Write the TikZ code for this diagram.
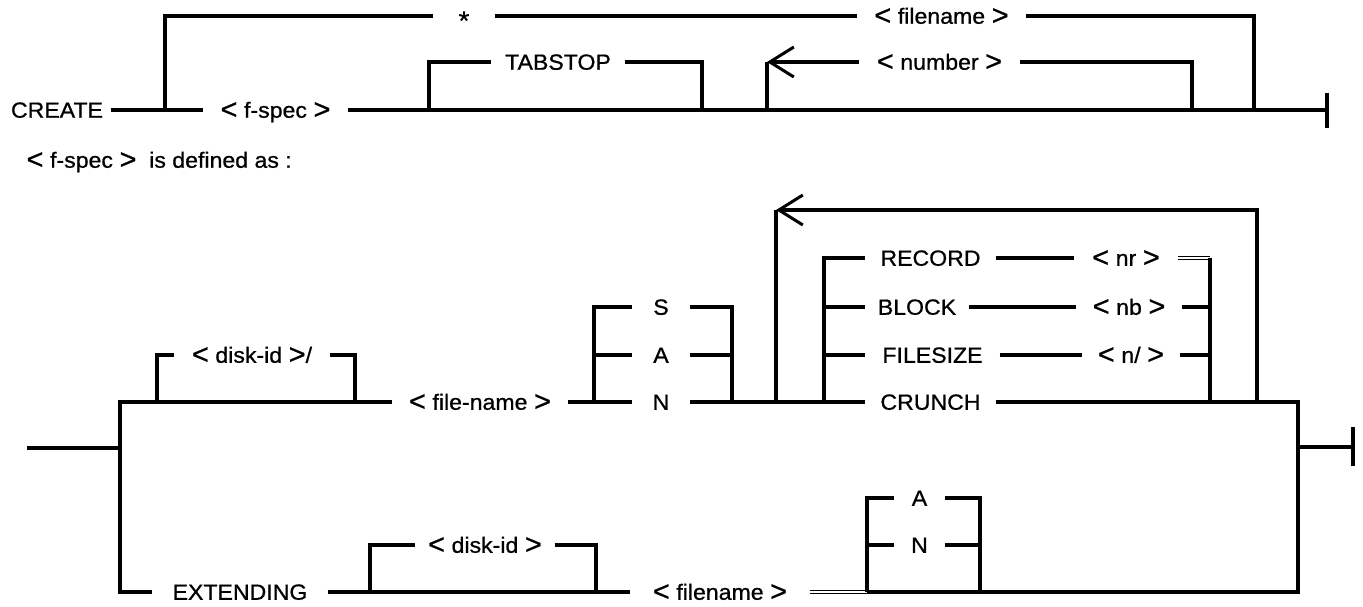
\documentclass[tikz,border=0pt]{standalone}
\usepackage{fontspec}
\usepackage{graphicx}
\setmainfont{Liberation Sans}[FakeStretch=1.05,FakeBold=0.8]
\usetikzlibrary{arrows.meta}
\newcommand\LA{\raisebox{-1.2pt}{\scalebox{1.25}[1.3]{<}}\hspace{0.3em}}
\newcommand\RA{\hspace{0.3em}\raisebox{-1.2pt}{\scalebox{1.25}[1.3]{>}}}
\begin{document}
\begin{tikzpicture}[x=1pt,y=-1pt,line width=3.2pt,
  lbl/.style={inner sep=0pt,text height=15.5pt,text depth=0pt,font=\fontsize{22}{26}\selectfont},
  dbl/.style={double,double distance=2.2pt,line width=1.1pt},
  back/.style={-{Straight Barb[length=24pt,width=30pt,line width=3pt]}}]
\useasboundingbox (0,0) rectangle (1363,607);
% ---------------- top diagram ----------------
\node[lbl,minimum width=104pt] (create) at (57,110) {CREATE};
\node[lbl,minimum width=141pt] (fspec) at (275.5,110) {\LA f-spec\RA};
\node[lbl,minimum width=58pt] (star) at (464,16) {\raisebox{-6pt}{\scalebox{1.2}{*}}};
\node[lbl,minimum width=165pt] (topfn) at (941.5,16) {\LA filename\RA};
\node[lbl,minimum width=130pt] (tab) at (558,62) {TABSTOP};
\node[lbl,minimum width=157pt] (num) at (939.5,62) {\LA number\RA};
\coordinate (j1) at (165,110); \coordinate (j1t) at (165,16);
\coordinate (j2t) at (1254,16); \coordinate (j2) at (1254,110);
\coordinate (topend) at (1327,110);
\coordinate (tbA) at (1327,93); \coordinate (tbB) at (1327,128);
\coordinate (t1) at (429,110); \coordinate (t1t) at (429,62);
\coordinate (t2t) at (702,62); \coordinate (t2) at (702,110);
\coordinate (n1) at (767,110); \coordinate (n1t) at (767,62);
\coordinate (n2t) at (1192,62); \coordinate (n2) at (1192,110);
\draw (create.east) -- (fspec.west);
\draw (j1) -- (j1t) -- (star.west);
\draw (star.east) -- (topfn.west);
\draw (topfn.east) -- (j2t) -- (j2);
\draw (fspec.east) -- (topend);
\draw (tbA) -- (tbB);
\draw (t1) -- (t1t) -- (tab.west);
\draw (tab.east) -- (t2t) -- (t2);
\draw (n1) -- (n1t);
\draw (n2) -- (n2t) -- (num.east);
\draw[back] (num.west) -- (n1t);
\node[lbl,anchor=west] (note) at (25,160) {\LA f-spec\RA\ \ is defined as :};
% ---------------- bottom diagram ----------------
\coordinate (in) at (27,448); \coordinate (inj) at (120,448);
\coordinate (Ltop) at (120,402); \coordinate (Lbot) at (120,592);
\node[lbl,minimum width=172pt] (fn) at (480,402) {\LA file-name\RA};
\node[lbl,minimum width=152pt] (did) at (252,355) {\LA disk-id\RA/};
\node[lbl,minimum width=54pt] (S) at (661,307) {S};
\node[lbl,minimum width=54pt] (A) at (661,355) {A};
\node[lbl,minimum width=54pt] (N) at (661,402) {N};
\node[lbl,minimum width=127pt] (record) at (930.5,258) {RECORD};
\node[lbl,minimum width=100pt] (block) at (917,307) {BLOCK};
\node[lbl,minimum width=131pt] (filesize) at (932.5,355) {FILESIZE};
\node[lbl,minimum width=127pt] (crunch) at (930.5,402) {CRUNCH};
\node[lbl,minimum width=100pt] (nr) at (1126,258) {\LA nr\RA};
\node[lbl,minimum width=103pt] (nb) at (1129,307) {\LA nb\RA};
\node[lbl,minimum width=94pt] (nsl) at (1131,355) {\LA n/\RA};
\node[lbl,minimum width=172pt] (ext) at (240,592) {EXTENDING};
\node[lbl,minimum width=136pt] (did2) at (485,545) {\LA disk-id\RA};
\node[lbl,minimum width=176pt] (fn2) at (720,592) {\LA filename\RA};
\node[lbl,minimum width=47pt] (A2) at (919.5,498) {A};
\node[lbl,minimum width=47pt] (N2) at (919.5,545) {N};
\coordinate (d1) at (157,402); \coordinate (d1t) at (157,355);
\coordinate (d2t) at (355,355); \coordinate (d2) at (355,402);
\coordinate (s1) at (594,402); \coordinate (s1a) at (594,355); \coordinate (s1t) at (594,307);
\coordinate (s2t) at (732,307); \coordinate (s2a) at (732,355); \coordinate (s2) at (732,402);
\coordinate (l1) at (776,402); \coordinate (l1t) at (776,210);
\coordinate (l2t) at (1257,210); \coordinate (l2) at (1257,402);
\coordinate (r1) at (824,402); \coordinate (r1f) at (824,355);
\coordinate (r1b) at (824,307); \coordinate (r1t) at (824,258);
\coordinate (r2t) at (1210,258); \coordinate (r2b) at (1210,307);
\coordinate (r2f) at (1210,355); \coordinate (r2) at (1210,402);
\coordinate (x1t) at (1298,402); \coordinate (x1b) at (1298,592);
\coordinate (xj) at (1298,447); \coordinate (xe) at (1353,447);
\coordinate (xbA) at (1353,427); \coordinate (xbB) at (1353,466);
\coordinate (e1) at (370,592); \coordinate (e1t) at (370,545);
\coordinate (e2t) at (596,545); \coordinate (e2) at (596,592);
\coordinate (b1) at (867,592); \coordinate (b1n) at (867,545); \coordinate (b1t) at (867,498);
\coordinate (b2t) at (980,498); \coordinate (b2n) at (980,545); \coordinate (b2) at (980,592);
% entry and left fork
\draw (in) -- (inj);
\draw (fn.west) -- (Ltop) -- (Lbot) -- (ext.west);
\draw (d1) -- (d1t) -- (did.west);
\draw (did.east) -- (d2t) -- (d2);
% S / A / N
\draw (fn.east) -- (N.west);
\draw (s1) -- (s1t) -- (S.west);
\draw (s1a) -- (A.west);
\draw (S.east) -- (s2t) -- (s2);
\draw (A.east) -- (s2a);
\draw (N.east) -- (crunch.west);
% repeat loop
\draw (l1) -- (l1t);
\draw[back] (l2) -- (l2t) -- (l1t);
% options
\draw (r1) -- (r1t) -- (record.west);
\draw (r1b) -- (block.west);
\draw (r1f) -- (filesize.west);
\draw (record.east) -- (nr.west);
\draw (block.east) -- (nb.west);
\draw (filesize.east) -- (nsl.west);
\draw[dbl] (nr.east) -- (r2t);
\draw (r2t) -- (r2);
\draw (nb.east) -- (r2b);
\draw (nsl.east) -- (r2f);
% exit
\draw (crunch.east) -- (x1t) -- (x1b) -- (b1);
\draw (xj) -- (xe);
\draw (xbA) -- (xbB);
% EXTENDING row
\draw (ext.east) -- (fn2.west);
\draw (e1) -- (e1t) -- (did2.west);
\draw (did2.east) -- (e2t) -- (e2);
\draw[dbl] (fn2.east) -- (b1);
\draw (b1) -- (b1t) -- (A2.west);
\draw (b1n) -- (N2.west);
\draw (A2.east) -- (b2t) -- (b2);
\draw (N2.east) -- (b2n);
\end{tikzpicture}
\end{document}
